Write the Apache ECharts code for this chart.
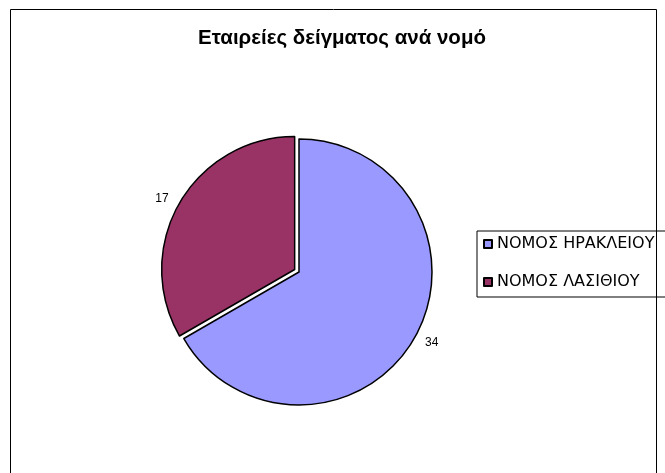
<!DOCTYPE html>
<html>
<head>
<meta charset="utf-8">
<script src="https://cdn.jsdelivr.net/npm/echarts@6/dist/echarts.min.js"></script>
<style>
html,body{margin:0;padding:0;background:#fff;}
#c{width:665px;height:473px;}
</style>
</head>
<body>
<div id="c"></div>
<script>
const titleText = 'Εταιρείες δείγματος ανά νομό';
const categories = ['ΝΟΜΟΣ ΗΡΑΚΛΕΙΟΥ', 'ΝΟΜΟΣ ΛΑΣΙΘΙΟΥ'];
const values = [34, 17];
const colors = ['#9999FF', '#993366'];
const explodedIndex = 1;

const chart = echarts.init(document.getElementById('c'), null, {renderer: 'canvas'});
const option = {
  animation: false,
  backgroundColor: '#fff',
  title: {
    text: titleText,
    left: 337,
    textAlign: 'center',
    top: 23,
    textStyle: {fontFamily: 'Liberation Sans, Arial, sans-serif', fontSize: 20.5, fontWeight: 'bold', color: '#000'}
  },
  graphic: [{
    type: 'rect', silent: true, z: -1,
    shape: {x: 10.5, y: 9.5, width: 646, height: 500},
    style: {fill: 'none', stroke: '#000', lineWidth: 1}
  }],
  legend: {
    orient: 'vertical',
    left: 477,
    top: 231,
    itemWidth: 8,
    itemHeight: 8,
    itemGap: 22,
    padding: [5, 30, 7, 6],
    borderColor: '#000',
    borderWidth: 1,
    icon: 'rect',
    selectedMode: false,
    textStyle: {fontFamily: '"DejaVu Sans", sans-serif', fontSize: 16, color: '#000'},
    data: categories
  },
  series: [{
    type: 'pie',
    center: [299, 272],
    radius: 133,
    startAngle: 90,
    clockwise: true,
    selectedMode: 'single',
    selectedOffset: 5,
    emphasis: {disabled: true},
    itemStyle: {borderColor: '#000', borderWidth: 1.5},
    label: {
      show: true,
      position: 'outside',
      formatter: '{c}',
      fontFamily: 'Liberation Sans, Arial, sans-serif',
      fontSize: 12,
      color: '#000',
      distanceToLabelLine: 4
    },
    labelLine: {show: false, length: 8, length2: 0},
    data: categories.map((n, i) => ({
      name: n,
      value: values[i],
      selected: i === explodedIndex,
      itemStyle: {color: colors[i]}
    }))
  }]
};
chart.setOption(option);
</script>
</body>
</html>
